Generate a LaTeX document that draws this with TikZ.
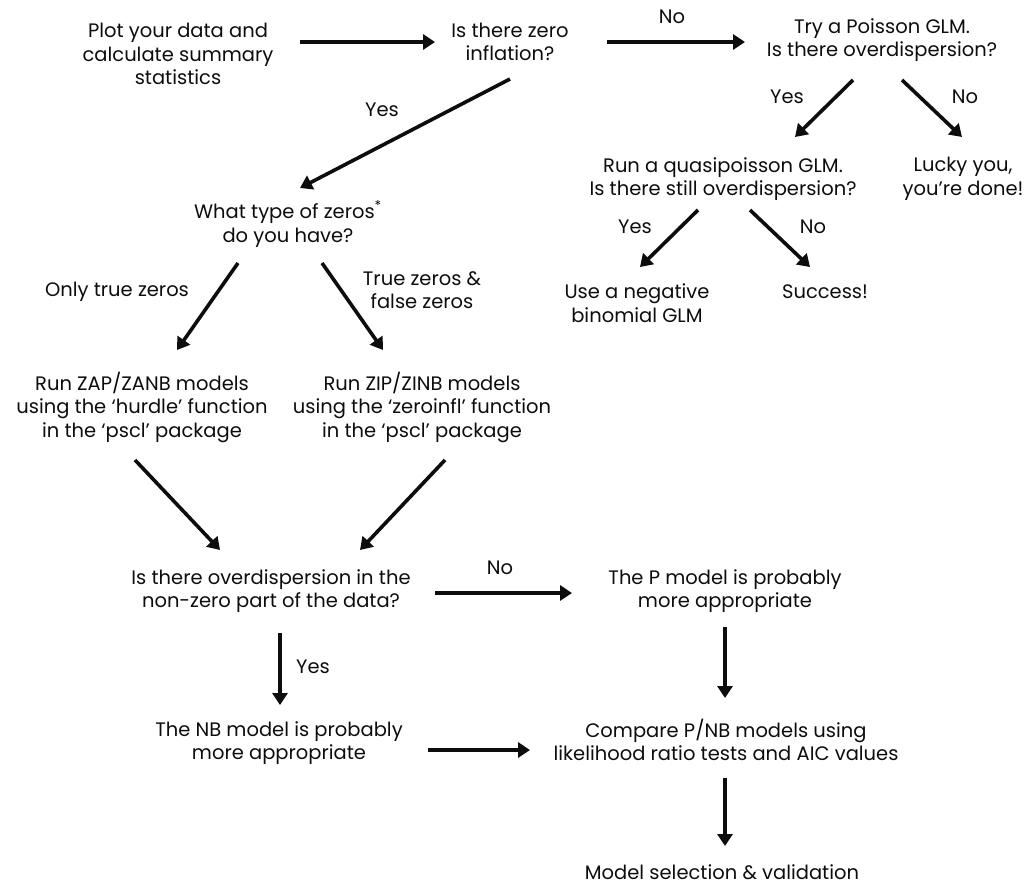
\documentclass[tikz,border=0pt]{standalone}
\usepackage{fontspec}
\setmainfont{Poppins}
\usepackage{tikz}
\usetikzlibrary{arrows.meta}

\tikzset{
  txt/.style={align=center, inner sep=0pt, text=black!95, font=\fontsize{19.5}{23.5}\selectfont},
  lbl/.style={inner sep=0pt, text=black!95, font=\fontsize{19.5}{23.5}\selectfont},
  arr/.style={line width=3.6pt, -{Triangle[length=12pt,width=15pt]}, black!95}
}

\begin{document}
\begin{tikzpicture}[x=1pt,y=-1pt]
\useasboundingbox (0,0) rectangle (1028,887);
% top row
\node[txt] (plot) at (178,54) {Plot your data and\\calculate summary\\statistics};
\node[txt] (zinf) at (510,42) {Is there zero\\inflation?};
\node[txt] (pois) at (882,40) {Try a Poisson GLM.\\Is there overdispersion?};
% no zero inflation
\node[txt] (quasi) at (723,179) {Run a quasipoisson GLM.\\Is there still overdispersion?};
\node[txt] (lucky) at (963,179) {Lucky you,\\you’re done!};
\node[txt] (negbin) at (637,303) {Use a negative\\binomial GLM};
\node[txt] (success) at (825,292) {Success!};
% zero inflation
\node[txt] (zeros) at (288,224) {What type of zeros\textsuperscript{*}\\do you have?};
\node[txt] (zap) at (142,407) {Run ZAP/ZANB models\\using the ‘hurdle’ function\\in the ‘pscl’ package};
\node[txt] (zip) at (422,407) {Run ZIP/ZINB models\\using the ‘zeroinfl’ function\\in the ‘pscl’ package};
\node[txt] (odisp) at (271,591) {Is there overdispersion in the\\non-zero part of the data?};
\node[txt] (pmod) at (725,591) {The P model is probably\\more appropriate};
\node[txt] (nbmod) at (279,743) {The NB model is probably\\more appropriate};
\node[txt] (comp) at (726,740) {Compare P/NB models using\\likelihood ratio tests and AIC values};
\node[txt] (modsel) at (722,872) {Model selection \& validation};

% labels
\node[lbl] (no1) at (672,17) {No};
\node[lbl] (yes1) at (382,110) {Yes};
\node[lbl] (yes2) at (787,97) {Yes};
\node[lbl] (no2) at (965,97) {No};
\node[lbl] (yes3) at (635,227) {Yes};
\node[lbl] (no3) at (813,227) {No};
\node[txt] (onlyt) at (117,292) {Only true zeros};
\node[txt] (truef) at (422,290) {True zeros \&\\false zeros};
\node[lbl] (no4) at (500,568) {No};
\node[lbl] (yes4) at (313,667) {Yes};

% arrows
\draw[arr] ([shift={(122,-12)}]plot.center) -- ([shift={(-75,0)}]zinf.center);
\draw[arr] ([shift={(97,0)}]zinf.center) -- ([shift={(-137,2)}]pois.center);
\draw[arr] ([shift={(0,37)}]zinf.center) -- ([shift={(12,-36)}]zeros.center);
\draw[arr] ([shift={(-29,40)}]pois.center) -- ([shift={(72,-42)}]quasi.center);
\draw[arr] ([shift={(20,40)}]pois.center) -- ([shift={(-1,-42)}]lucky.center);
\draw[arr] ([shift={(-25,31)}]quasi.center) -- ([shift={(3,-36)}]negbin.center);
\draw[arr] ([shift={(27,31)}]quasi.center) -- ([shift={(-15,-25)}]success.center);
\draw[arr] ([shift={(-50,39)}]zeros.center) -- ([shift={(35,-57)}]zap.center);
\draw[arr] ([shift={(34,39)}]zeros.center) -- ([shift={(-39,-57)}]zip.center);
\draw[arr] ([shift={(-7,53)}]zap.center) -- ([shift={(-51,-41)}]odisp.center);
\draw[arr] ([shift={(23,53)}]zip.center) -- ([shift={(89,-41)}]odisp.center);
\draw[arr] ([shift={(164,2)}]odisp.center) -- ([shift={(-153,2)}]pmod.center);
\draw[arr] ([shift={(9,42)}]odisp.center) -- ([shift={(1,-38)}]nbmod.center);
\draw[arr] ([shift={(0,36)}]pmod.center) -- ([shift={(-1,-42)}]comp.center);
\draw[arr] ([shift={(149,7)}]nbmod.center) -- ([shift={(-196,10)}]comp.center);
\draw[arr] ([shift={(-1,38)}]comp.center) -- ([shift={(3,-26)}]modsel.center);
\end{tikzpicture}
\end{document}
